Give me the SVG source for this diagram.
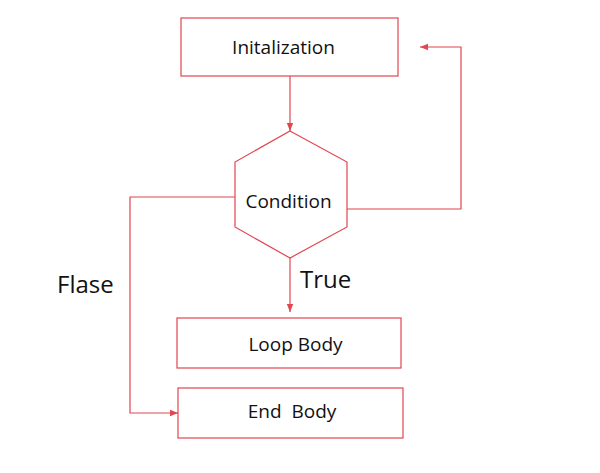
<svg xmlns="http://www.w3.org/2000/svg" width="600" height="473" viewBox="0 0 600 473">
<style>
.box{fill:#fff;stroke:#e0474f;stroke-width:1.2}
.ln{fill:none;stroke:#e0474f;stroke-width:1.2}
.t{font-family:"Open Sans","Noto Sans",sans-serif;font-size:19px;fill:#111;text-anchor:middle;white-space:pre}
.lb{font-family:"Open Sans","Noto Sans",sans-serif;font-size:24px;fill:#111}
</style>
<defs>
<marker id="ah" viewBox="0 0 10 10" refX="10" refY="5" markerWidth="8" markerHeight="8" markerUnits="userSpaceOnUse" orient="auto">
<path d="M0,1 L10,5 L0,9 Z" fill="#e0474f"/>
</marker>
</defs>
<rect width="600" height="473" fill="#fff"/>
<g id="connectors">
<path class="ln" d="M290,76 V131" marker-end="url(#ah)"/>
<path class="ln" d="M347,209 H461 V47 H420" marker-end="url(#ah)"/>
<path class="ln" d="M235,197 H130 V413 H178" marker-end="url(#ah)"/>
<path class="ln" d="M290,258 V312" marker-end="url(#ah)"/>
</g>
<g id="init"><rect class="box" x="181" y="18" width="217" height="58"/><text class="t" x="283.5" y="54">Initalization</text></g>
<g id="condition"><polygon class="box" points="290,131 347,162 347,227 290,258 235,227 235,162"/><text class="t" x="288.5" y="208">Condition</text></g>
<g id="loop"><rect class="box" x="177" y="318" width="224" height="50"/><text class="t" x="295.5" y="351">Loop Body</text></g>
<g id="end"><rect class="box" x="178" y="388" width="225" height="50"/><text class="t" x="292" y="418" xml:space="preserve">End  Body</text></g>
<text class="lb" x="300" y="288">True</text>
<text class="lb" x="57" y="293">Flase</text>
</svg>
